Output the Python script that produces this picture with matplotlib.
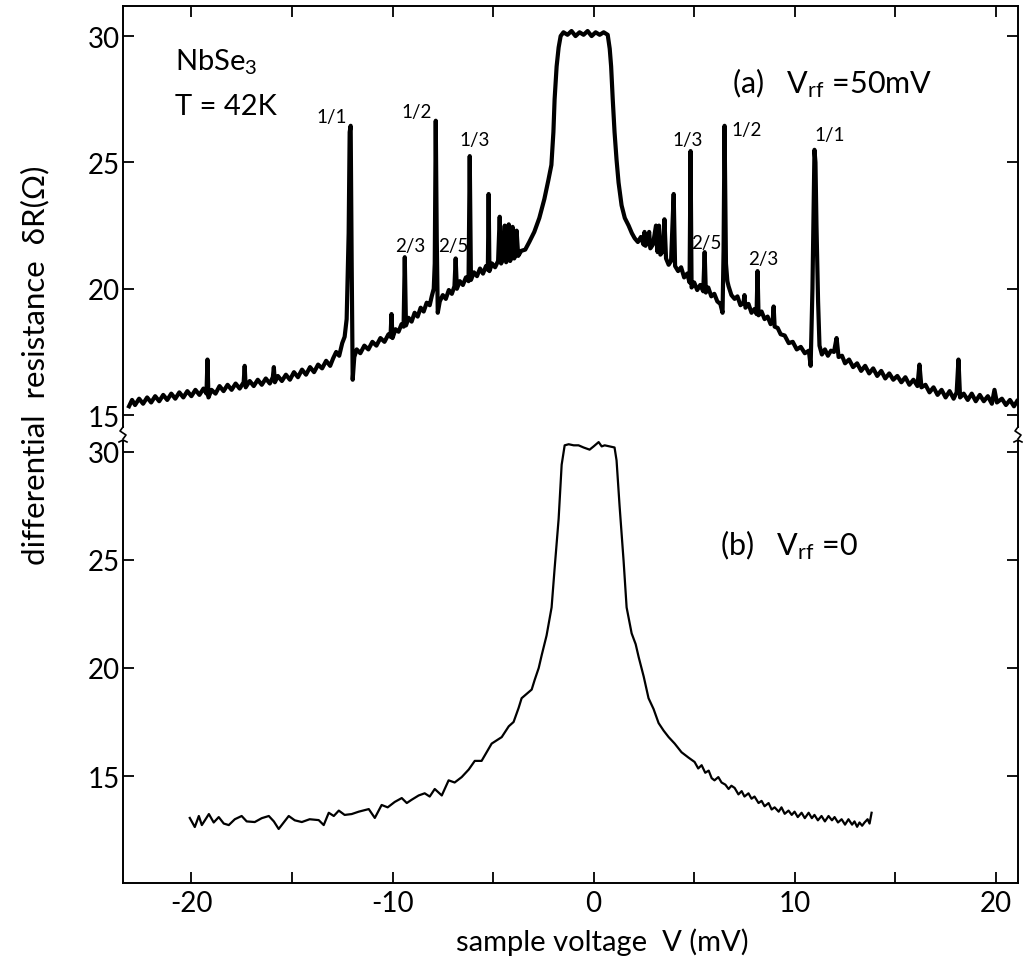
import numpy as np
import matplotlib
matplotlib.use('Agg')
import matplotlib.pyplot as plt
from matplotlib.lines import Line2D

plt.rcParams['font.family'] = ['Lato', 'DejaVu Sans']
plt.rcParams['mathtext.default'] = 'regular'
plt.rcParams['text.color'] = 'black'
plt.rcParams['xtick.color'] = 'black'
plt.rcParams['ytick.color'] = 'black'

# (a) V_rf = 50 mV : trace (V in mV, dR in Ohm)
trace_a = [
    (-23.1, 15.35), (-22.95, 15.6), (-22.8, 15.4), (-22.6, 15.65), (-22.4, 15.45), (-22.2, 15.7),
    (-22.0, 15.5), (-21.8, 15.75), (-21.6, 15.55), (-21.4, 15.8), (-21.2, 15.6), (-21.0, 15.85),
    (-20.8, 15.65), (-20.6, 15.9), (-20.4, 15.7), (-20.2, 15.95), (-20.0, 15.75), (-19.8, 16.0),
    (-19.6, 15.8), (-19.4, 16.05), (-19.25, 15.85), (-19.2, 17.2), (-19.15, 15.7), (-19.0, 16.0),
    (-18.8, 15.85), (-18.6, 16.15), (-18.4, 15.95), (-18.2, 16.2), (-18.0, 16.0), (-17.8, 16.25),
    (-17.6, 16.05), (-17.4, 16.3), (-17.35, 16.95), (-17.3, 16.1), (-17.1, 16.35), (-16.9, 16.15),
    (-16.7, 16.4), (-16.5, 16.2), (-16.3, 16.45), (-16.1, 16.25), (-15.95, 16.5), (-15.9, 16.9),
    (-15.85, 16.3), (-15.7, 16.55), (-15.5, 16.35), (-15.3, 16.6), (-15.1, 16.4), (-14.9, 16.7),
    (-14.7, 16.5), (-14.5, 16.8), (-14.3, 16.6), (-14.1, 16.9), (-13.9, 16.7), (-13.7, 17.0),
    (-13.5, 16.85), (-13.3, 17.15), (-13.1, 16.95), (-12.95, 17.25), (-12.8, 17.5), (-12.65, 17.35),
    (-12.5, 17.85), (-12.38, 18.1), (-12.28, 18.8), (-12.18, 22.2), (-12.13, 26.2), (-12.08, 26.45),
    (-12.03, 21.0), (-11.98, 16.4), (-11.9, 17.3), (-11.78, 17.6), (-11.6, 17.45), (-11.4, 17.75),
    (-11.2, 17.6), (-11.0, 17.9), (-10.8, 17.75), (-10.6, 18.05), (-10.4, 17.9), (-10.2, 18.2),
    (-10.1, 18.1), (-10.05, 19.0), (-10.0, 18.05), (-9.85, 18.4), (-9.7, 18.3), (-9.55, 18.6),
    (-9.45, 18.5), (-9.39, 21.25), (-9.33, 18.55), (-9.2, 18.85), (-9.05, 18.7), (-8.9, 19.05),
    (-8.75, 18.9), (-8.6, 19.25), (-8.45, 19.1), (-8.3, 19.45), (-8.15, 19.35), (-8.05, 19.7),
    (-7.95, 20.0), (-7.9, 21.0), (-7.85, 26.65), (-7.8, 22.0), (-7.75, 19.05), (-7.65, 19.5),
    (-7.5, 19.75), (-7.35, 19.6), (-7.2, 19.95), (-7.05, 19.8), (-6.92, 20.1), (-6.86, 21.2),
    (-6.8, 20.0), (-6.65, 20.3), (-6.5, 20.15), (-6.35, 20.45), (-6.22, 20.3), (-6.16, 25.25),
    (-6.1, 20.35), (-5.95, 20.65), (-5.8, 20.5), (-5.65, 20.8), (-5.5, 20.6), (-5.35, 20.9),
    (-5.26, 20.75), (-5.22, 23.75), (-5.18, 20.7), (-5.05, 21.0), (-4.9, 20.85), (-4.75, 21.1),
    (-4.67, 22.85), (-4.6, 21.0), (-4.5, 21.2), (-4.42, 22.5), (-4.35, 21.05), (-4.25, 21.3),
    (-4.22, 22.55), (-4.15, 21.1), (-4.05, 21.35), (-4.03, 22.45), (-3.95, 21.2), (-3.85, 21.4),
    (-3.83, 22.3), (-3.75, 21.3), (-3.6, 21.5), (-3.4, 21.55), (-3.2, 21.85), (-2.95, 22.25),
    (-2.7, 22.8), (-2.45, 23.55), (-2.25, 24.3), (-2.1, 24.9), (-2.0, 26.2), (-1.94, 27.5),
    (-1.84, 28.8), (-1.74, 29.55), (-1.64, 30.0), (-1.5, 30.15), (-1.3, 30.05), (-1.1, 30.2),
    (-0.9, 30.0), (-0.7, 30.15), (-0.5, 30.05), (-0.3, 30.2), (-0.1, 30.0), (0.1, 30.15),
    (0.3, 30.05), (0.5, 30.15), (0.7, 30.05), (0.8, 29.5), (0.87, 28.8), (0.95, 27.5),
    (1.04, 26.2), (1.14, 25.1), (1.24, 24.2), (1.39, 23.3), (1.55, 22.8), (1.74, 22.5),
    (1.9, 22.2), (2.04, 22.0), (2.2, 21.85), (2.35, 22.05), (2.48, 21.75), (2.53, 22.25),
    (2.58, 21.7), (2.7, 21.9), (2.76, 22.25), (2.82, 21.6), (2.95, 21.75), (3.1, 22.5),
    (3.18, 21.45), (3.25, 22.5), (3.32, 21.35), (3.45, 21.5), (3.52, 22.75), (3.6, 21.2),
    (3.73, 20.95), (3.85, 21.1), (3.98, 23.75), (4.05, 20.9), (4.2, 20.7), (4.35, 20.85),
    (4.5, 20.45), (4.65, 20.6), (4.77, 20.25), (4.82, 25.45), (4.87, 20.05), (5.0, 20.25),
    (5.15, 19.95), (5.3, 20.15), (5.45, 19.9), (5.52, 21.45), (5.58, 19.85), (5.7, 20.05),
    (5.85, 19.7), (6.0, 19.8), (6.15, 19.5), (6.3, 19.4), (6.41, 19.05), (6.46, 21.5),
    (6.51, 26.45), (6.58, 21.0), (6.65, 20.3), (6.71, 20.1), (6.85, 19.75), (7.01, 19.6),
    (7.15, 19.7), (7.3, 19.35), (7.45, 19.45), (7.5, 19.75), (7.55, 19.25), (7.7, 19.4),
    (7.85, 19.05), (8.0, 19.2), (8.1, 19.0), (8.15, 20.7), (8.2, 18.95), (8.35, 19.1),
    (8.5, 18.8), (8.65, 18.9), (8.8, 18.6), (8.9, 18.7), (8.95, 19.3), (9.0, 18.5),
    (9.15, 18.45), (9.3, 18.2), (9.5, 18.15), (9.7, 17.85), (9.9, 17.9), (10.1, 17.6),
    (10.3, 17.7), (10.5, 17.45), (10.7, 17.55), (10.79, 16.95), (10.88, 20.0), (10.98, 25.5),
    (11.03, 25.0), (11.08, 22.5), (11.16, 19.5), (11.23, 17.75), (11.35, 17.4), (11.5, 17.6),
    (11.65, 17.35), (11.8, 17.55), (11.95, 17.5), (12.08, 18.05), (12.18, 17.3), (12.35, 17.35),
    (12.5, 17.05), (12.7, 17.2), (12.9, 16.9), (13.1, 17.05), (13.3, 16.75), (13.5, 16.95),
    (13.7, 16.65), (13.9, 16.85), (14.1, 16.55), (14.3, 16.75), (14.5, 16.45), (14.7, 16.65),
    (14.9, 16.4), (15.1, 16.55), (15.3, 16.3), (15.5, 16.5), (15.7, 16.2), (15.9, 16.4),
    (16.1, 16.15), (16.2, 17.0), (16.3, 16.1), (16.5, 16.2), (16.7, 15.9), (16.9, 16.1),
    (17.1, 15.8), (17.3, 16.0), (17.5, 15.7), (17.7, 15.95), (17.9, 15.65), (18.05, 15.9),
    (18.14, 17.2), (18.22, 15.7), (18.4, 15.85), (18.6, 15.6), (18.8, 15.85), (19.0, 15.55),
    (19.2, 15.8), (19.4, 15.55), (19.6, 15.75), (19.8, 15.45), (19.93, 16.0), (20.05, 15.5),
    (20.3, 15.65), (20.5, 15.4), (20.7, 15.6), (20.9, 15.35), (21.05, 15.55),
]

# (b) V_rf = 0
trace_b = [
    (-20.08, 13.06), (-19.83, 12.64), (-19.63, 13.15), (-19.48, 12.73), (-19.13, 13.24), (-18.89, 12.85),
    (-18.64, 13.1), (-18.39, 12.8), (-18.14, 12.73), (-17.84, 13.0), (-17.5, 13.15), (-17.25, 12.9),
    (-16.85, 12.87), (-16.5, 13.05), (-16.15, 13.15), (-15.9, 12.9), (-15.66, 12.55), (-15.41, 12.85),
    (-15.16, 13.15), (-14.86, 12.95), (-14.51, 12.87), (-14.12, 13.0), (-13.67, 12.96), (-13.42, 12.73),
    (-13.17, 13.3), (-12.92, 13.15), (-12.67, 13.4), (-12.38, 13.2), (-12.03, 13.24), (-11.68, 13.35),
    (-11.18, 13.47), (-10.88, 13.06), (-10.54, 13.66), (-10.24, 13.55), (-9.89, 13.8), (-9.54, 13.98),
    (-9.29, 13.75), (-9.05, 13.9), (-8.7, 14.1), (-8.4, 14.2), (-8.15, 14.05), (-7.9, 14.4),
    (-7.55, 14.1), (-7.21, 14.8), (-6.91, 14.7), (-6.56, 14.95), (-6.21, 15.3), (-5.91, 15.7),
    (-5.57, 15.7), (-5.32, 16.1), (-5.07, 16.5), (-4.57, 16.8), (-4.22, 17.3), (-3.98, 17.5),
    (-3.73, 18.15), (-3.58, 18.6), (-3.33, 18.8), (-3.08, 19.0), (-2.93, 19.45), (-2.73, 20.0),
    (-2.58, 20.6), (-2.34, 21.5), (-2.09, 22.8), (-1.94, 24.6), (-1.74, 26.9), (-1.59, 29.4),
    (-1.44, 30.3), (-1.24, 30.35), (-0.99, 30.3), (-0.75, 30.3), (-0.5, 30.2), (-0.2, 30.1),
    (0.0, 30.25), (0.25, 30.45), (0.4, 30.25), (0.55, 30.3), (0.8, 30.25), (1.04, 30.2),
    (1.14, 29.6), (1.29, 27.5), (1.49, 24.95), (1.64, 22.8), (1.89, 21.6), (2.09, 21.1),
    (2.24, 20.5), (2.49, 19.6), (2.73, 18.6), (2.98, 18.1), (3.23, 17.45), (3.48, 17.1),
    (3.73, 16.8), (4.03, 16.5), (4.37, 16.1), (4.72, 15.85), (5.02, 15.65), (5.2, 15.35),
    (5.37, 15.5), (5.55, 15.15), (5.72, 15.25), (5.87, 14.9), (6.01, 14.8), (6.2, 14.95),
    (6.36, 14.7), (6.55, 14.6), (6.71, 14.4), (6.85, 14.55), (7.01, 14.45), (7.2, 14.15),
    (7.36, 14.3), (7.5, 14.05), (7.7, 14.2), (7.85, 13.95), (8.0, 14.05), (8.2, 13.75),
    (8.35, 13.85), (8.5, 13.6), (8.7, 13.75), (8.85, 13.45), (9.0, 13.55), (9.2, 13.35),
    (9.34, 13.55), (9.5, 13.25), (9.69, 13.4), (9.85, 13.2), (9.99, 13.35), (10.15, 13.1),
    (10.34, 13.3), (10.5, 13.05), (10.69, 13.3), (10.85, 13.05), (10.98, 13.2), (11.15, 12.95),
    (11.33, 13.15), (11.5, 12.9), (11.68, 13.15), (11.85, 12.95), (11.98, 13.1), (12.15, 12.85),
    (12.33, 13.0), (12.5, 12.75), (12.67, 13.0), (12.85, 12.75), (12.97, 12.9), (13.1, 12.65),
    (13.22, 12.85), (13.35, 12.7), (13.47, 12.85), (13.62, 13.0), (13.72, 12.8), (13.82, 13.3),
]

# peak labels (text, V, dR) of panel (a)
peak_labels = [
    ('1/1', -13.02, 26.8), ('1/2', -8.8, 27.0), ('1/3', -5.9, 25.9),
    ('2/3', -9.14, 21.7), ('2/5', -6.96, 21.7),
    ('1/3', 4.67, 25.9), ('1/2', 7.62, 26.3), ('2/5', 5.6, 21.85),
    ('2/3', 8.45, 21.2), ('1/1', 11.76, 26.1),
]

x_ticks = [-20, -10, 0, 10, 20]
x_ticklabels = ['-20', '-10', '0', '10', '20']
x_minor = [-15, -5, 5, 15]
y_ticks = [15, 20, 25, 30]

W, H = 1023, 962
fig = plt.figure(figsize=(W / 100, H / 100), dpi=100)

left = 123 / W
width = (1018 - 123) / W
ax1 = fig.add_axes([left, 1 - 428 / H, width, (428 - 7) / H])
ax2 = fig.add_axes([left, 1 - 884 / H, width, (884 - 442) / H])

va, ra = np.array(trace_a).T
vb, rb = np.array(trace_b).T
ax1.plot(va, ra, color='black', lw=3.0)
ax2.plot(vb, rb, color='black', lw=1.6)

ax1.set_xlim(-23.4, 21.1)
ax2.set_xlim(-23.4, 21.1)
ax1.set_ylim(14.53, 31.19)
ax2.set_ylim(10.05, 30.5)

for ax in (ax1, ax2):
    for s in ax.spines.values():
        s.set_linewidth(1.4)
    ax.set_xticks(x_ticks)
    ax.set_xticks(x_minor, minor=True)
    ax.set_yticks(y_ticks)
    ax.tick_params(which='both', direction='in', length=8, width=1.3,
                   right=True, labelsize=20, pad=3)
    ax.tick_params(axis='y', pad=2)

ax1.spines['bottom'].set_visible(False)
ax2.spines['top'].set_visible(False)
ax1.tick_params(axis='x', which='both', top=True, bottom=False, labelbottom=False)
ax2.tick_params(axis='x', which='both', top=False, bottom=True, pad=5)
ax2.set_xticklabels(x_ticklabels)

for txt, v, r in peak_labels:
    ax1.text(v, r, txt, fontsize=13.5, ha='center', va='center')

ax1.text(-20.8, 29.0, 'NbSe$_3$', fontsize=21, va='center')
ax1.text(-20.8, 27.23, 'T = 42K', fontsize=21, va='center')
ax1.text(6.86, 28.18, '(a)   V$_{rf}$ =50mV', fontsize=22, va='center')
ax2.text(6.26, 25.74, '(b)   V$_{rf}$ =0', fontsize=22, va='center')

fig.text(35 / W, 1 - 365 / H, 'differential  resistance  δR(Ω)', rotation=90,
         fontsize=22.5, ha='center', va='center')
fig.text(602 / W, 1 - 942 / H, 'sample voltage  V (mV)', fontsize=21,
         ha='center', va='center')

# break marks on the left and right spines
for px in (123, 1018):
    xs = np.array([0, -3, 3, 0]) + px
    ys = np.array([428, 432, 436, 440])
    fig.add_artist(Line2D(xs / W, 1 - ys / H, color='black', lw=1.2))
    fig.add_artist(Line2D(np.array([px - 4, px, px + 4]) / W,
                          1 - np.array([443, 441, 443]) / H, color='black', lw=1.2))

fig.savefig('out.png', dpi=100)
